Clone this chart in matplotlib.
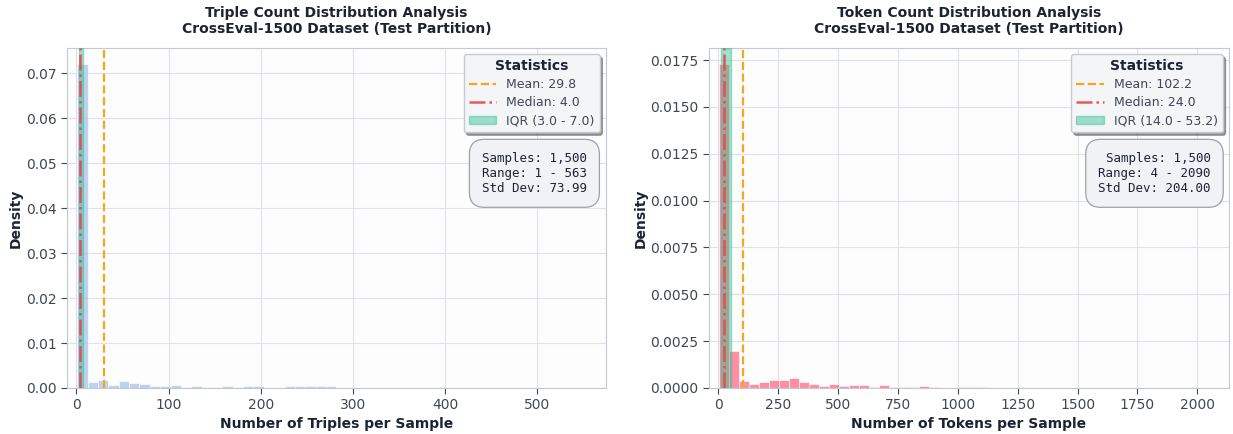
#!/usr/bin/env python3

import numpy as np
from matplotlib import pyplot as plt

# Triple counts: histogram densities, 50 bins over [1, 563]
TRIPLE_RANGE = (1, 563)
triple_density = [
    0.0720, 0.0013, 0.0017, 0.0007, 0.0016, 0.0011, 0.0008, 0.0004, 0.0004, 0.0007,
    0.0003, 0.0004, 0.0002, 0.0002, 0.0004, 0.0002, 0.0004, 0.0004, 0.0001, 0.0001,
    0.0005, 0.0005, 0.0005, 0.0005, 0.0005, 0.0, 0.0, 0.0001, 0.0, 0.0,
    0.0, 0.0001, 0.0, 0.0, 0.0, 0.0, 0.0, 0.0, 0.0, 0.0,
    0.0, 0.0, 0.0, 0.0, 0.0, 0.0, 0.0, 0.0, 0.0, 0.00006,
]
triple_stats = {"mean": 29.8, "median": 4.0, "q1": 3.0, "q3": 7.0,
                "n": 1500, "min": 1, "max": 563, "std": 73.99}

# Token counts: histogram densities, 50 bins over [4, 2090]
TOKEN_RANGE = (4, 2090)
token_density = [
    0.01727, 0.00200, 0.00038, 0.00020, 0.00032, 0.00043, 0.00042, 0.00053, 0.00032, 0.00022,
    0.00012, 0.00020, 0.00011, 0.00016, 0.00016, 0.00005, 0.00014, 0.00007, 0.00007, 0.00003,
    0.00009, 0.00007, 0.0, 0.0, 0.00003, 0.00005, 0.00003, 0.0, 0.0, 0.0,
    0.0, 0.0, 0.0, 0.0, 0.0, 0.0, 0.0, 0.0, 0.0, 0.0,
    0.0, 0.0, 0.0, 0.0, 0.0, 0.0, 0.0, 0.0, 0.0, 0.000016,
]
token_stats = {"mean": 102.2, "median": 24.0, "q1": 14.0, "q3": 53.2,
               "n": 1500, "min": 4, "max": 2090, "std": 204.00}

DARK = "#1c2333"
TICK = "#404656"
SPINE = "#c4c8d4"


def draw_panel(ax, rng, density, stats, color, title, xlabel):
    edges = np.linspace(rng[0], rng[1], len(density) + 1)
    ax.hist(edges[:-1], bins=edges, weights=density, color=color,
            alpha=0.75, edgecolor="white", linewidth=0.6, zorder=2)

    ax.axvline(stats["mean"], color="#f5a623", ls="--", lw=1.6,
               label=f"Mean: {stats['mean']:.1f}", zorder=4)
    ax.axvline(stats["median"], color="#e8454f", ls="-.", lw=1.8, alpha=0.9,
               label=f"Median: {stats['median']:.1f}", zorder=5)
    ax.axvspan(stats["q1"], stats["q3"], color="#2fc08f", alpha=0.45,
               label=f"IQR ({stats['q1']:.1f} - {stats['q3']:.1f})", zorder=3)

    ax.margins(x=0.02)
    ax.set_facecolor("#fdfdfd")
    ax.grid(True, color="#dfe1e8", lw=0.8, zorder=0)
    ax.set_axisbelow(True)
    for s in ax.spines.values():
        s.set_color(SPINE)
    ax.tick_params(colors=TICK, labelsize=10, length=4)

    ax.set_title(title, fontsize=10, fontweight="bold", color=DARK, pad=11)
    ax.set_xlabel(xlabel, fontsize=10, fontweight="bold", color=DARK, labelpad=3)
    ax.set_ylabel("Density", fontsize=10, fontweight="bold", color=DARK, labelpad=2)

    leg = ax.legend(loc="upper right", fontsize=9, title="Statistics",
                    title_fontproperties={"weight": "bold", "size": 10},
                    frameon=True, fancybox=True, shadow=True,
                    facecolor="#f4f5f7", edgecolor="#c8cad0",
                    framealpha=1.0, handlelength=2.2, labelspacing=0.4)
    leg.get_title().set_color(DARK)
    for t in leg.get_texts():
        t.set_color(TICK)

    info = (f"Samples: {stats['n']:,}\n"
            f"Range: {stats['min']} - {stats['max']}\n"
            f"Std Dev: {stats['std']:.2f}")
    ax.text(0.965, 0.695, info, transform=ax.transAxes, ha="right", va="top",
            family="DejaVu Sans Mono", fontsize=9, color=DARK, zorder=10,
            bbox=dict(boxstyle="round,pad=1.0,rounding_size=1.2",
                      facecolor="#f1f2f5", edgecolor="#9ba1ab", lw=0.9))


fig = plt.figure(figsize=(12.33, 4.34), dpi=100)
ax1 = fig.add_axes([0.0543, 0.106, 0.437, 0.783])
ax2 = fig.add_axes([0.575, 0.106, 0.4217, 0.783])

draw_panel(ax1, TRIPLE_RANGE, triple_density, triple_stats, "#a9c4ea",
           "Triple Count Distribution Analysis\nCrossEval-1500 Dataset (Test Partition)",
           "Number of Triples per Sample")
draw_panel(ax2, TOKEN_RANGE, token_density, token_stats, "#ff6b84",
           "Token Count Distribution Analysis\nCrossEval-1500 Dataset (Test Partition)",
           "Number of Tokens per Sample")

fig.savefig("out.png", dpi=100)
